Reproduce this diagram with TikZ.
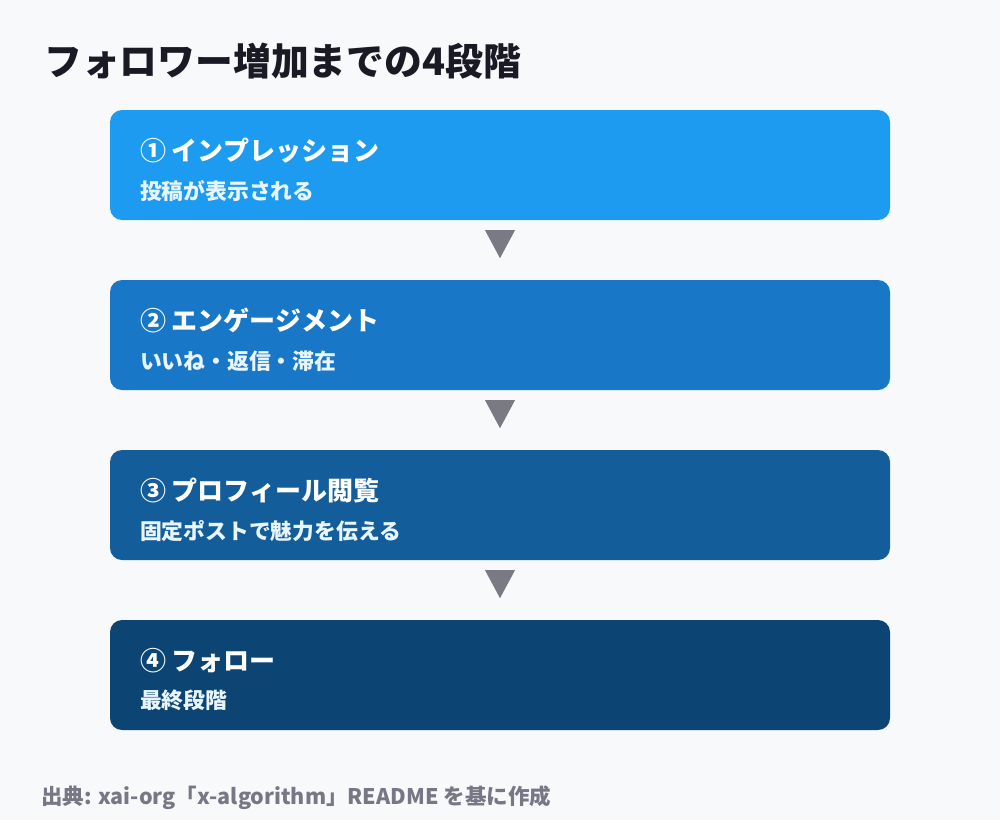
\documentclass[tikz,border=0pt]{standalone}
\usepackage{fontspec}
\setmainfont{Noto Sans CJK JP}
\usetikzlibrary{positioning, calc}
\definecolor{bgpaper}{HTML}{F8F9FB}
\definecolor{titleink}{HTML}{1A1A24}
\definecolor{stepone}{HTML}{1D9BF0}
\definecolor{steptwo}{HTML}{1878C7}
\definecolor{stepthree}{HTML}{125D9A}
\definecolor{stepfour}{HTML}{0C4473}
\definecolor{arrowgray}{HTML}{7A7A85}
\definecolor{noteink}{HTML}{777785}
\tikzset{
  stagebox/.style={rectangle, rounded corners=12pt, minimum width=780pt, minimum height=110pt, inner sep=0pt},
  stagehead/.style={anchor=west, inner sep=0pt, text=white, font=\fontsize{26}{31}\selectfont\bfseries},
  stagesub/.style={anchor=west, inner sep=0pt, text=white!90!stepone, font=\fontsize{21.8}{26}\selectfont\bfseries},
}
\begin{document}
\begin{tikzpicture}[x=1pt, y=-1pt]
			% paper
			\fill[bgpaper] (0,0) rectangle (1000,820);
			\useasboundingbox (0,0) rectangle (1000,820);
			% title
			\node[anchor=west, inner sep=0pt, text=titleink, font=\fontsize{37.8}{44}\selectfont\bfseries] (title) at (44,61) {フォロワー増加までの4段階};
			% stages
			\node[stagebox, fill=stepone] (s1) at (500,165) {};
			\node[stagebox, fill=steptwo] (s2) at (500,335) {};
			\node[stagebox, fill=stepthree] (s3) at (500,505) {};
			\node[stagebox, fill=stepfour] (s4) at (500,675) {};
			\node[stagehead] (h1) at ($(s1.north west)+(30,41)$) {① インプレッション};
			\node[stagesub] (d1) at ($(s1.north west)+(30,81)$) {投稿が表示される};
			\node[stagehead] (h2) at ($(s2.north west)+(30,41)$) {② エンゲージメント};
			\node[stagesub] (d2) at ($(s2.north west)+(30,81)$) {いいね・返信・滞在};
			\node[stagehead] (h3) at ($(s3.north west)+(30,41)$) {③ プロフィール閲覧};
			\node[stagesub] (d3) at ($(s3.north west)+(30,81)$) {固定ポストで魅力を伝える};
			\node[stagehead] (h4) at ($(s4.north west)+(30,41)$) {④ フォロー};
			\node[stagesub] (d4) at ($(s4.north west)+(30,81)$) {最終段階};
			% arrows
			\foreach \a in {s1,s2,s3}
				\fill[arrowgray] ($(\a.south)+(-15,10)$) -- ($(\a.south)+(15,10)$) -- ($(\a.south)+(0,38)$) -- cycle;
			% source
			\node[anchor=west, inner sep=0pt, text=noteink, font=\fontsize{21.5}{26}\selectfont\bfseries] (note) at (41,798) {出典: xai-org「x-algorithm」README を基に作成};
		\end{tikzpicture}
\end{document}
